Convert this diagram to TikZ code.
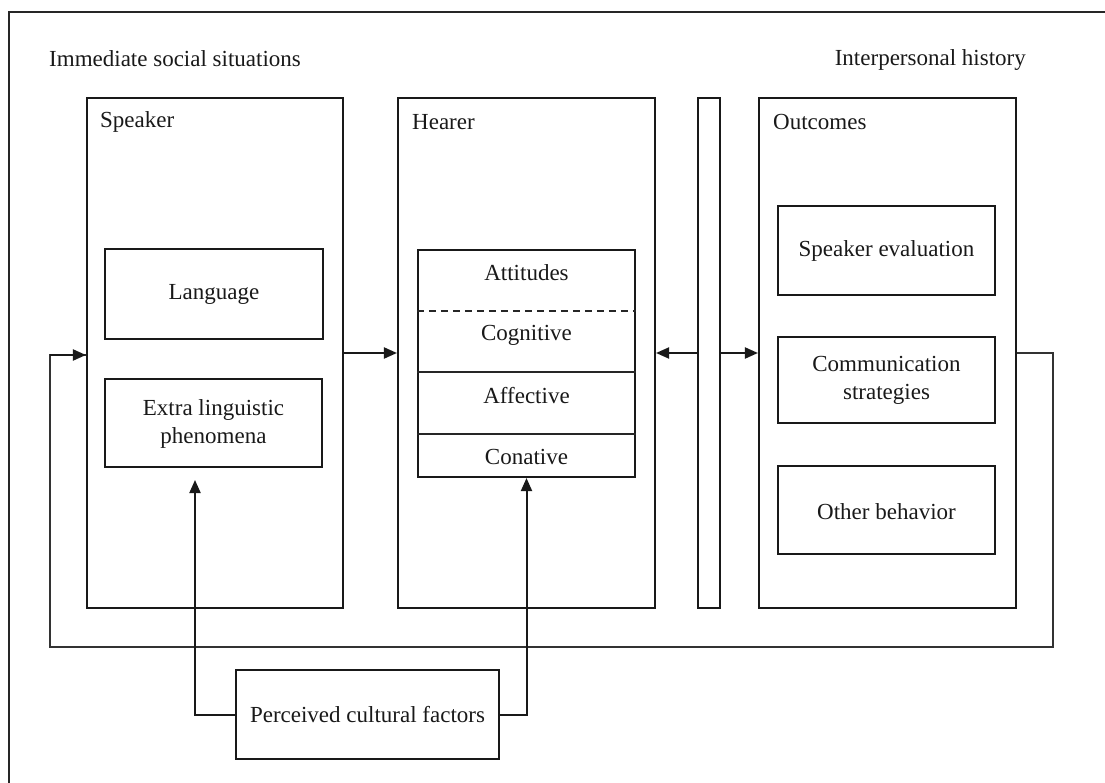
\documentclass[tikz,border=0pt]{standalone}
\usepackage{fontspec}
\setmainfont{Liberation Serif}
\usetikzlibrary{arrows.meta}
\begin{document}
\begin{tikzpicture}[x=1pt,y=-1pt,
  box/.style={draw=black!90, line width=2.1pt, inner sep=0pt, rectangle},
  lbl/.style={inner sep=0pt, font=\fontsize{23}{28}\selectfont, text=black!90},
  ctext/.style={lbl, align=center},
  arr/.style={line width=2pt, draw=black!90, -{Triangle[length=13pt,width=11pt]}},
  loopline/.style={line width=1.8pt, draw=black!80}]
\useasboundingbox (0,0) rectangle (1105,783);
% frame (top and left)
\draw[line width=2pt, black!85] (1105,12) -- (9,12) -- (9,783);
% titles
\node[lbl, anchor=west] (tleft) at (49,59) {Immediate social situations};
\node[lbl, anchor=east] (tright) at (1026,60) {Interpersonal history};
% main boxes
\node[box, minimum width=256pt, minimum height=510pt] (speaker) at (215,353) {};
\node[box, minimum width=257pt, minimum height=510pt] (hearer) at (526.5,353) {};
\node[box, minimum width=22pt, minimum height=510pt] (bar) at (709,353) {};
\node[box, minimum width=257pt, minimum height=510pt] (outcomes) at (887.5,353) {};
\node[lbl, anchor=west] (lspeaker) at (100,122) {Speaker};
\node[lbl, anchor=west] (lhearer) at (412,122) {Hearer};
\node[lbl, anchor=west] (loutcomes) at (773,122) {Outcomes};
% speaker inner
\node[box, minimum width=218pt, minimum height=90pt] (language) at (214,294) {};
\node[ctext] (tlanguage) at (214,294) {Language};
\node[box, minimum width=217pt, minimum height=88pt] (extra) at (213.5,423) {};
\node[ctext] (textra) at (213.5,424) {Extra linguistic\\phenomena};
% hearer inner
\node[box, minimum width=217pt, minimum height=227pt] (att) at (526.5,363.5) {};
\draw[line width=1.8pt, black!85, dash pattern=on 7pt off 5pt] (att.west |- 0,311) -- (att.east |- 0,311);
\draw[line width=1.8pt, black!85] (att.west |- 0,372) -- (att.east |- 0,372);
\draw[line width=1.8pt, black!85] (att.west |- 0,434) -- (att.east |- 0,434);
\node[lbl] (tatt) at (526.5,273) {Attitudes};
\node[lbl] (tcog) at (526.5,335) {Cognitive};
\node[lbl] (taff) at (526.5,396) {Affective};
\node[lbl] (tcon) at (526.5,457) {Conative};
% outcomes inner
\node[box, minimum width=217pt, minimum height=89pt] (seval) at (886.5,250.5) {};
\node[ctext] (tseval) at (886.5,250.5) {Speaker evaluation};
\node[box, minimum width=217pt, minimum height=86pt] (comm) at (886.5,380) {};
\node[ctext] (tcomm) at (886.5,380) {Communication\\strategies};
\node[box, minimum width=217pt, minimum height=88pt] (other) at (886.5,510) {};
\node[ctext] (tother) at (886.5,512) {Other behavior};
% cultural factors
\node[box, minimum width=263pt, minimum height=89pt] (cult) at (367.5,714.5) {};
\node[ctext] (tcult) at (367.5,714.5) {Perceived cultural factors};
% arrows
\draw[arr] (speaker.east) -- (hearer.west);
\draw[arr] (bar.west) -- (hearer.east);
\draw[arr] (bar.east) -- (outcomes.west);
% feedback loop
\coordinate (l1) at (1053,353);
\coordinate (l2) at (1053,647);
\coordinate (l3) at (50,647);
\coordinate (l4) at (50,355);
\draw[loopline] (outcomes.east) -- (l1) -- (l2) -- (l3) -- (l4) -- (speaker.west |- l4);
\draw[arr] (l4) -- (speaker.west |- l4);
% cultural arrows
\coordinate (c1) at (195,480);
\draw[arr] (cult.west) -| (c1);
\draw[arr] (cult.east) -| (att.south);
\end{tikzpicture}
\end{document}
